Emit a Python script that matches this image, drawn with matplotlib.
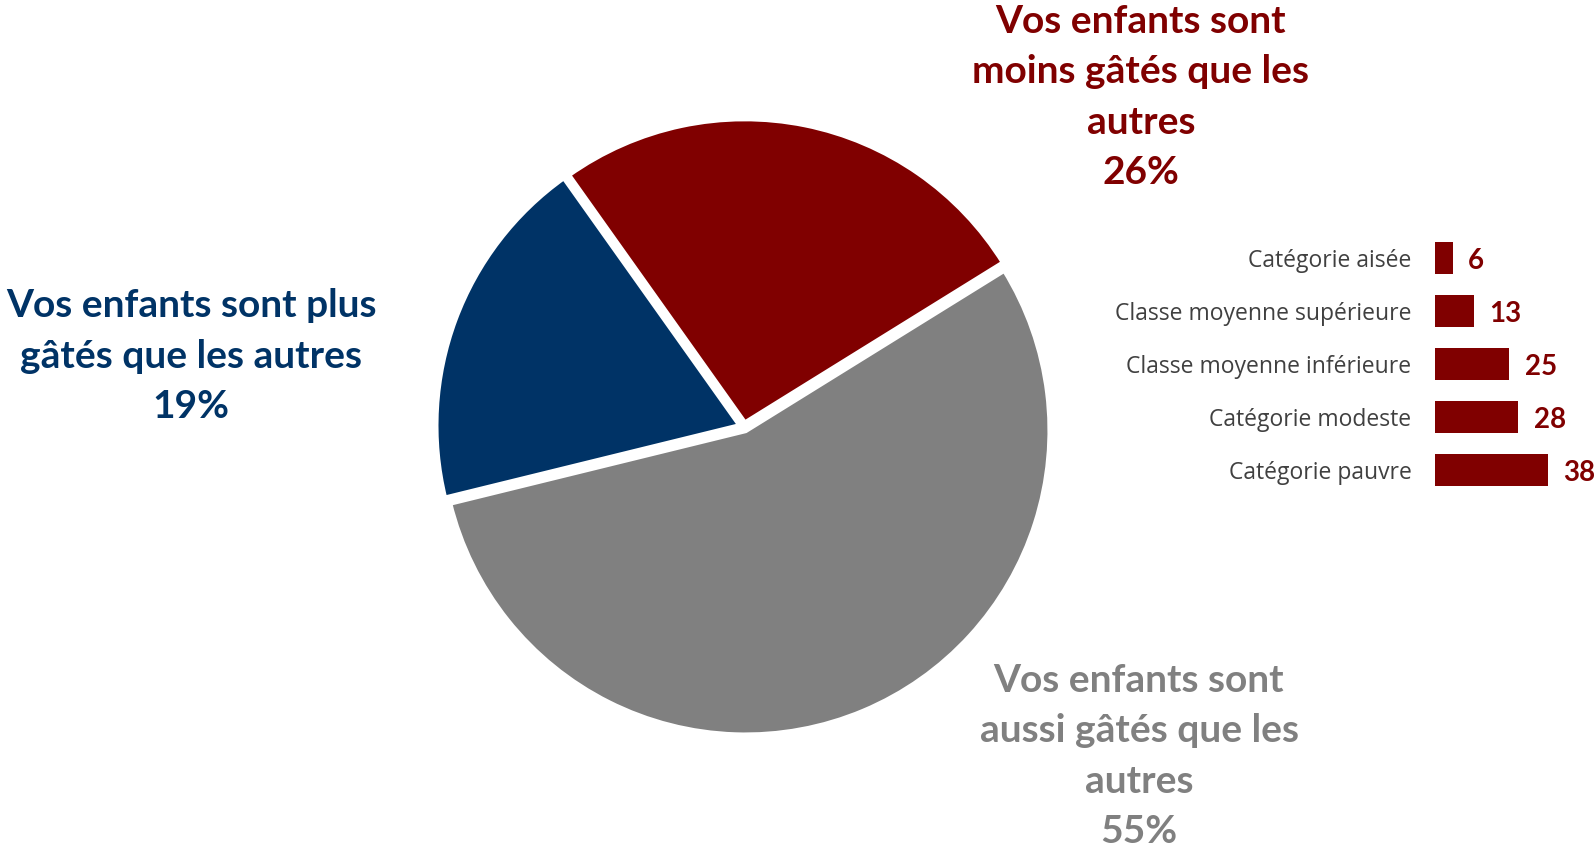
import matplotlib
matplotlib.use("Agg")
import matplotlib.pyplot as plt

plt.rcParams["font.family"] = ["Lato", "DejaVu Sans"]

# pie data (share of answers, %)
pie_labels = [
    "Vos enfants sont\nmoins gâtés que les\nautres",
    "Vos enfants sont plus\ngâtés que les autres",
    "Vos enfants sont\naussi gâtés que les\nautres",
]
pie_values = [26, 19, 55]
pie_colors = ["#800000", "#003366", "#808080"]

# breakdown of the "moins gâtés" answer by category
bar_labels = [
    "Catégorie aisée",
    "Classe moyenne supérieure",
    "Classe moyenne inférieure",
    "Catégorie modeste",
    "Catégorie pauvre",
]
bar_values = [6, 13, 25, 28, 38]

W, H = 1595, 851
fig = plt.figure(figsize=(W / 100, H / 100), dpi=100)


def px(x, y):
    """pixel position (from top-left) -> figure fraction"""
    return x / W, 1 - y / H


# --- pie ---
cx, cy, r = 744, 427, 311
ax = fig.add_axes([(cx - r) / W, 1 - (cy + r) / H, 2 * r / W, 2 * r / H])
ax.pie(
    pie_values,
    colors=pie_colors,
    startangle=31.8,
    counterclock=True,
    radius=0.98,
    explode=[0.012, 0.012, 0.012],
    wedgeprops=dict(edgecolor="white", linewidth=4),
)
ax.set_xlim(-1, 1)
ax.set_ylim(-1, 1)
ax.set_aspect("equal")
ax.axis("off")

# pie labels
label_pos = [(1141, 97), (191, 356), (1139, 756)]
for lab, val, col, (x, y) in zip(pie_labels, pie_values, pie_colors, label_pos):
    fig.text(*px(x, y), f"{lab}\n{val}%", ha="center", va="center",
             fontsize=28, fontweight="bold", color=col, linespacing=1.52)

# --- bars ---
left, right = 1435, 1548
top, bottom = 231.5, 496.5
bax = fig.add_axes([left / W, 1 - bottom / H, (right - left) / W, (bottom - top) / H])
ypos = list(range(len(bar_values)))
bax.barh(ypos, bar_values, height=0.62, color="#800000")
bax.set_xlim(0, max(bar_values))
bax.set_ylim(len(bar_values) - 0.5, -0.5)
bax.set_yticks(ypos)
bax.set_yticklabels(bar_labels, fontsize=16.5, color="#404040",
                    family=["Open Sans", "DejaVu Sans"])
bax.tick_params(axis="y", length=0, pad=17)
bax.set_xticks([])
for s in bax.spines.values():
    s.set_visible(False)
for yy, v in zip(ypos, bar_values):
    bax.annotate(str(v), (v, yy), xytext=(11, -2), textcoords="offset points",
                 ha="left", va="center", fontsize=20, fontweight="bold",
                 color="#800000")

fig.savefig("out.png", dpi=100, facecolor="white")
